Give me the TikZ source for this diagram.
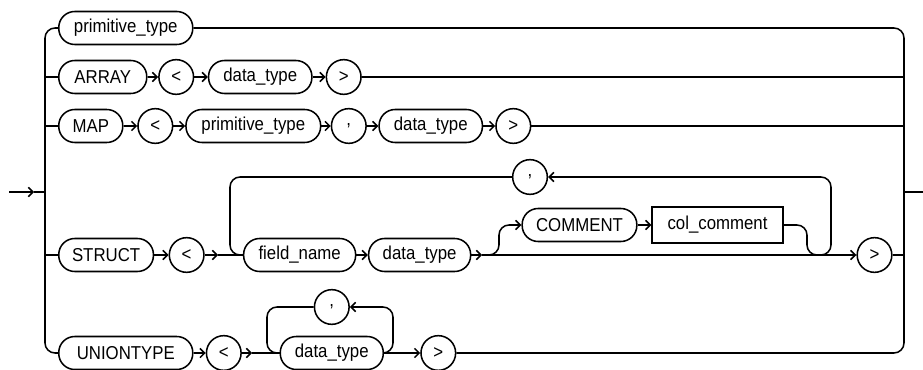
\documentclass[tikz,border=0pt]{standalone}
\usepackage{fontspec}
\setmainfont[FakeStretch=0.9]{Liberation Sans}
\usepackage{tikz}
\usetikzlibrary{arrows.meta}

\begin{document}
\begin{tikzpicture}[x=0.75pt, y=-0.75pt, line width=1.15pt, >={Straight Barb[length=3.5pt,width=7pt]}]
\tikzset{
  pill/.style = {rectangle, draw, rounded corners=12pt, minimum height=24.75pt, inner xsep=3pt, inner ysep=0pt, font=\fontsize{14}{16}\selectfont},
  sym/.style = {circle, draw, minimum size=26pt, inner sep=0pt, font=\fontsize{14}{16}\selectfont},
  param/.style = {rectangle, draw, minimum height=27pt, inner xsep=3pt, inner ysep=0pt, font=\fontsize{14}{16}\selectfont},
  line/.style = {draw, ->},
  rail/.style = {draw, rounded corners=7.5pt}
}
\useasboundingbox (0,0) rectangle (923,370);
\node [pill, anchor=west, minimum width=100.5pt] (ptype) at (58,28) {primitive\_type};
\node [pill, anchor=west, minimum width=66pt] (array) at (58,77) {ARRAY};
\node [sym, right of=array, node distance=55.1pt] (lt2) {<};
\node [pill, right of=lt2, node distance=63pt, minimum width=77.5pt] (dt2) {data\_type};
\node [sym, right of=dt2, node distance=62.6pt] (gt2) {>};
\node [pill, anchor=west, minimum width=48pt] (map) at (58,126) {MAP};
\node [sym, right of=map, node distance=48.4pt] (lt3) {<};
\node [pill, right of=lt3, node distance=73.5pt, minimum width=101pt] (ptype3) {primitive\_type};
\node [sym, right of=ptype3, node distance=71.6pt] (comma3) {,};
\node [pill, right of=comma3, node distance=61.5pt, minimum width=77.5pt] (dt3) {data\_type};
\node [sym, right of=dt3, node distance=61.9pt] (gt3) {>};
\node [pill, anchor=west, minimum width=71pt] (struct) at (58,255) {STRUCT};
\node [sym, right of=struct, node distance=60.4pt] (lt4) {<};
\node [pill, right of=lt4, node distance=84.75pt, minimum width=84pt] (fname) {field\_name};
\node [pill, right of=fname, node distance=90pt, minimum width=76.5pt] (dt4) {data\_type};
\node [pill, minimum width=86pt] (comment) at (579.5,225) {COMMENT};
\node [param, right of=comment, node distance=103.5pt, minimum width=98pt] (colc) {col\_comment};
\node [sym] (comma4) at (530,177) {,};
\node [sym] (gt4) at (874.5,255) {>};
\node [pill, anchor=west, minimum width=100.5pt] (union) at (58,353) {UNIONTYPE};
\node [sym, right of=union, node distance=73.5pt] (lt5) {<};
\node [pill, right of=lt5, node distance=81pt, minimum width=77.25pt] (dt5) {data\_type};
\node [sym, above of=dt5, node distance=34.5pt] (comma5) {,};
\node [sym, right of=dt5, node distance=79.9pt] (gt5) {>};
\coordinate (in) at (9,192);
\coordinate (intip) at (34,192);
\coordinate (lmid) at (45,192);
\coordinate (ltop) at (45,28);
\coordinate (lbot) at (45,353);
\coordinate (l2) at (45,77);
\coordinate (l3) at (45,126);
\coordinate (l4) at (45,255);
\coordinate (rtop) at (904,28);
\coordinate (rbot) at (904,353);
\coordinate (r2) at (904,77);
\coordinate (r3) at (904,126);
\coordinate (r4) at (904,255);
\coordinate (rmid) at (904,192);
\coordinate (out) at (923,192);
\coordinate (j4a) at (218,255);
\coordinate (j4b) at (482,255);
\coordinate (k4a) at (230,177);
\coordinate (k4b) at (230,255);
\coordinate (k4c) at (499,255);
\coordinate (k4d) at (499,225);
\coordinate (k4e) at (807,225);
\coordinate (k4f) at (807,255);
\coordinate (k4g) at (831,255);
\coordinate (k4h) at (831,177);
\coordinate (j5) at (252,353);
\coordinate (k5a) at (267,307);
\coordinate (k5b) at (267,353);
\coordinate (k5c) at (393,353);
\coordinate (k5d) at (393,307);
\path [line] (in) -- (intip);
\draw (intip) -- (lmid);
\path [rail] (ptype) -- (ltop) -- (lbot) -- (union);
\draw (l2) -- (array);
\draw (l3) -- (map);
\draw (l4) -- (struct);
\path [rail] (ptype) -- (rtop) -- (rbot) -- (gt5);
\draw (gt2) -- (r2);
\draw (gt3) -- (r3);
\draw (gt4) -- (r4);
\draw (rmid) -- (out);
\path [line] (array) -- (lt2);
\path [line] (lt2) -- (dt2);
\path [line] (dt2) -- (gt2);
\path [line] (map) -- (lt3);
\path [line] (lt3) -- (ptype3);
\path [line] (ptype3) -- (comma3);
\path [line] (comma3) -- (dt3);
\path [line] (dt3) -- (gt3);
\path [line] (struct) -- (lt4);
\path [line] (lt4) -- (j4a);
\draw (j4a) -- (fname);
\path [line] (fname) -- (dt4);
\path [line] (dt4) -- (j4b);
\path [line] (j4b) -- (gt4);
\path [line, rounded corners=7.5pt] (j4b) -- (k4c) -- (k4d) -- (comment);
\path [line] (comment) -- (colc);
\path [line, rounded corners=7.5pt] (colc) -- (k4e) -- (k4f) -- (k4g) -- (k4h) -- (comma4);
\path [rail] (comma4) -- (k4a) -- (k4b) -- (fname);
\path [line] (union) -- (lt5);
\path [line] (lt5) -- (j5);
\draw (j5) -- (dt5);
\path [line] (dt5) -- (gt5);
\path [line, rounded corners=7.5pt] (dt5) -- (k5c) -- (k5d) -- (comma5);
\path [rail] (comma5) -- (k5a) -- (k5b) -- (dt5);
\end{tikzpicture}
\end{document}
